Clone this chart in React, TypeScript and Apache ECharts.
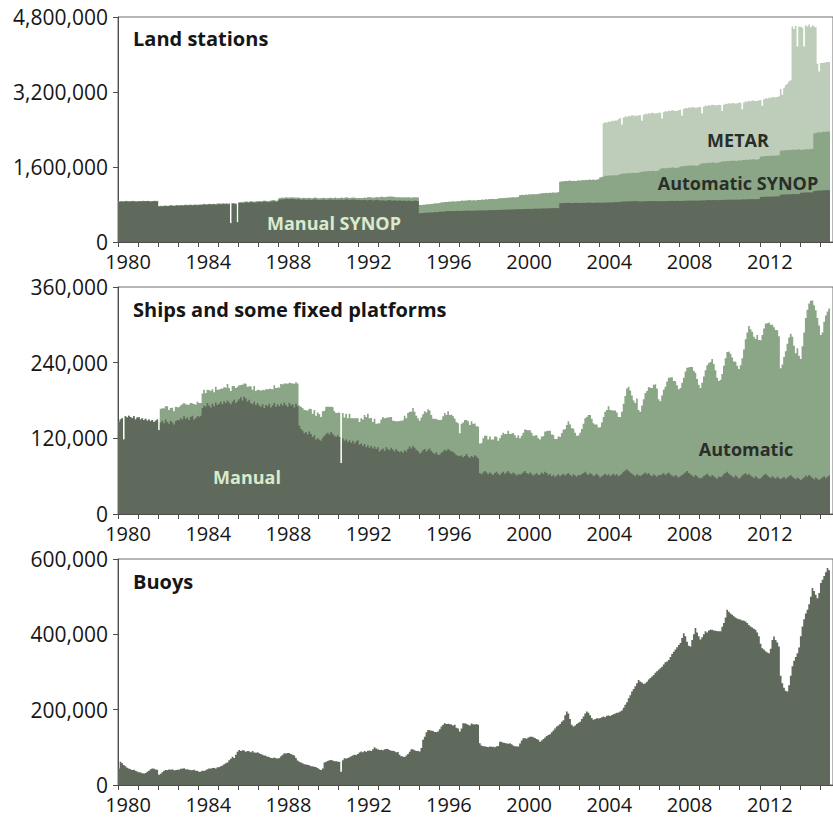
import React, { useEffect, useRef } from 'react';
import * as echarts from 'echarts';

// Monthly values (thousands of observations), January 1980 – June 2015
const START_YEAR = 1980;

const landManual: number[] = [
  860,866,858,863,869,864,860,867,871,862,858,865,
  867,862,871,868,864,873,866,860,869,871,864,872,
  758,765,760,770,767,762,772,776,770,766,779,773,
  776,781,772,786,782,778,789,784,780,791,786,782,
  792,788,796,801,790,799,803,796,806,800,794,807,
  809,800,813,806,811,798,812,400,816,810,808,420,
  831,836,828,841,846,838,842,851,845,838,848,853,
  855,850,859,863,856,848,861,866,871,862,858,867,
  906,913,908,916,921,910,919,923,915,911,905,918,
  906,898,911,902,895,909,901,895,906,911,900,894,
  896,901,906,898,892,903,909,900,896,905,898,903,
  901,906,898,907,911,902,896,905,909,900,894,903,
  898,890,896,903,888,897,901,892,886,895,899,890,
  885,893,888,880,887,895,891,882,889,884,878,887,
  883,876,885,880,874,887,881,872,879,885,876,870,
  615,620,618,624,630,626,633,629,636,640,637,644,
  648,652,646,655,659,654,661,657,663,660,666,662,
  664,668,662,670,666,673,669,665,672,668,675,671,
  672,676,670,678,674,681,677,683,679,685,681,688,
  684,690,686,693,689,696,692,698,694,700,697,703,
  698,704,700,707,703,709,705,712,708,714,710,716,
  712,718,714,720,716,722,719,724,721,726,722,728,
  825,832,828,835,830,837,833,828,835,831,838,834,
  830,836,832,839,835,841,837,833,840,836,842,838,
  835,842,838,845,841,848,844,850,846,853,849,856,
  860,866,862,869,865,871,867,873,869,875,871,866,
  863,870,866,873,868,875,871,877,873,869,876,872,
  868,874,870,877,872,879,875,881,877,873,880,876,
  875,881,877,884,880,886,882,888,884,880,887,883,
  885,891,887,894,890,896,892,898,894,890,897,893,
  895,901,897,904,900,906,902,908,904,900,907,903,
  905,911,907,914,910,916,912,918,914,910,917,913,
  960,966,962,969,965,971,967,973,969,975,971,977,
  1010,1016,1012,1019,1015,1021,1017,1023,1019,1025,1021,1027,
  1050,1056,1052,1059,1055,1061,1057,1063,1090,1095,1101,1098,
  1100,1106,1102,1109,1105,1111,
];

const landAutomatic: number[] = [
  6,8,5,7,9,6,8,5,7,6,8,7,
  7,5,8,6,9,7,5,8,6,7,9,6,
  8,6,9,7,5,8,10,7,9,6,8,10,
  9,7,10,8,11,9,7,10,8,11,9,12,
  10,12,9,13,11,10,14,12,10,13,11,15,
  13,11,15,12,14,16,13,0,15,12,14,0,
  16,18,14,19,17,15,20,18,16,21,19,17,
  20,18,22,19,21,24,20,18,23,21,19,24,
  30,34,29,35,31,36,33,29,35,31,37,33,
  32,37,31,36,39,33,38,34,31,36,40,35,
  36,32,39,35,41,37,34,40,36,42,38,35,
  38,43,37,41,36,44,39,42,37,45,41,38,
  42,48,45,52,49,56,53,50,58,55,61,58,
  62,70,66,75,80,72,78,85,76,70,74,68,
  66,72,64,70,76,68,62,70,75,66,71,78,
  172,168,175,170,178,174,180,176,183,179,186,182,
  192,198,194,201,196,203,199,206,202,197,204,208,
  210,216,211,218,214,221,216,223,219,214,221,226,
  226,232,228,235,230,237,233,240,235,231,238,243,
  244,250,246,253,248,255,251,258,253,249,256,262,
  298,305,300,307,302,309,305,312,307,303,310,316,
  320,326,322,329,324,331,327,334,329,325,332,338,
  458,466,462,470,465,473,468,476,471,467,474,480,
  478,486,481,489,484,492,487,495,490,486,493,499,
  540,548,565,572,567,575,570,578,573,569,576,582,
  590,598,593,601,596,604,599,607,602,598,605,611,
  630,638,633,641,636,644,639,647,642,638,645,651,
  695,703,698,706,701,709,704,712,707,703,710,716,
  735,743,738,746,741,749,744,752,747,743,750,756,
  785,793,788,796,791,799,794,802,797,793,800,806,
  815,823,818,826,821,829,824,832,827,823,830,836,
  835,843,838,846,841,849,844,852,847,843,850,856,
  860,868,863,871,866,874,869,877,872,868,875,881,
  935,943,938,946,941,949,944,952,947,943,950,956,
  915,923,918,926,921,929,924,932,1230,1235,1242,1238,
  1240,1248,1243,1251,1246,1254,
];

const landMetar: number[] = [
  0,0,0,0,0,0,0,0,0,0,0,0,
  0,0,0,0,0,0,0,0,0,0,0,0,
  0,0,0,0,0,0,0,0,0,0,0,0,
  0,0,0,0,0,0,0,0,0,0,0,0,
  0,0,0,0,0,0,0,0,0,0,0,0,
  0,0,0,0,0,0,0,0,0,0,0,0,
  0,0,0,0,0,0,0,0,0,0,0,0,
  0,0,0,0,0,0,0,0,0,0,0,0,
  0,0,0,0,0,0,0,0,0,0,0,0,
  0,0,0,0,0,0,0,0,0,0,0,0,
  0,0,0,0,0,0,0,0,0,0,0,0,
  0,0,0,0,0,0,0,0,0,0,0,0,
  0,0,0,0,0,0,0,0,0,0,0,0,
  0,0,0,0,0,0,0,0,0,0,0,0,
  0,0,0,0,0,0,0,0,0,0,0,0,
  0,0,0,0,0,0,0,0,0,0,0,0,
  0,0,0,0,0,0,0,0,0,0,0,0,
  0,0,0,0,0,0,0,0,0,0,0,0,
  0,0,0,0,0,0,0,0,0,0,0,0,
  0,0,0,0,0,0,0,0,0,0,0,0,
  0,0,0,0,0,0,0,0,0,0,0,0,
  0,0,0,0,0,0,0,0,0,0,0,0,
  0,0,0,0,0,0,0,0,0,0,0,0,
  0,0,0,0,0,0,0,0,0,0,0,0,
  0,0,1130,1140,1135,1150,1145,1160,1155,1170,1165,1180,
  1195,1040,1200,1210,1205,1215,1210,1222,1216,1225,1219,1230,
  1205,1080,1215,1222,1218,1228,1224,1232,1228,1236,1231,1240,
  1190,1060,1200,1208,1204,1212,1208,1217,1212,1220,1216,1225,
  1215,1070,1222,1230,1226,1234,1230,1239,1235,1243,1238,1247,
  1205,1060,1213,1220,1216,1224,1221,1230,1225,1233,1228,1237,
  1205,1070,1212,1220,1216,1225,1220,1228,1224,1233,1229,1238,
  1225,1080,1233,1240,1236,1245,1241,1249,1245,1253,1249,1258,
  1210,1075,1218,1226,1222,1231,1235,1244,1240,1249,1245,1254,
  1320,1180,1340,1380,1420,1460,1490,2620,2580,2640,2200,2610,
  2630,2590,2200,2640,2620,2650,2600,2630,2280,2250,1460,1300,
  1480,1470,1485,1478,1490,1482,
];

const shipManual: number[] = [
  146,150,152,118,155,153,156,154,152,155,150,153,
  154,150,152,149,151,148,150,147,149,146,148,150,
  133,145,148,144,150,146,143,148,145,142,147,149,
  148,152,150,155,151,153,149,154,156,150,152,155,
  154,156,168,172,170,176,172,169,175,171,177,173,
  175,178,174,179,176,180,177,174,178,181,176,179,
  182,185,180,186,183,178,181,176,174,178,173,176,
  172,170,174,168,173,171,175,169,172,176,170,174,
  171,175,172,177,173,170,176,172,174,169,175,171,
  140,135,132,128,130,126,131,127,122,125,118,120,
  118,116,121,124,127,129,126,130,127,124,122,125,
  122,81,120,116,118,114,117,113,116,112,115,117,
  110,112,108,111,106,109,105,108,104,107,103,106,
  99,102,104,100,106,103,101,105,102,99,103,100,
  98,100,97,101,99,103,107,104,108,105,102,100,
  96,98,101,103,99,102,104,100,97,95,98,94,
  94,97,99,102,100,103,101,99,98,96,93,92,
  91,93,90,92,95,91,89,92,90,93,91,88,
  65,63,66,68,66,63,66,64,62,65,67,64,
  62,65,67,64,66,68,65,63,66,64,61,63,
  62,64,66,68,65,63,66,64,61,63,65,62,
  63,66,64,67,65,62,64,60,62,59,61,63,
  60,62,64,61,63,65,62,60,63,61,59,62,
  61,63,65,67,64,62,65,63,60,62,64,61,
  58,60,62,64,61,63,60,62,64,61,63,60,
  62,64,67,69,71,68,66,64,62,60,63,61,
  60,62,64,66,63,65,62,60,63,61,59,62,
  61,63,65,62,64,66,63,61,59,62,60,58,
  60,62,64,66,68,65,63,61,59,62,60,57,
  56,58,60,62,64,61,59,62,60,58,56,59,
  58,60,63,65,67,64,62,60,58,61,59,56,
  58,61,63,65,62,64,61,59,57,60,58,56,
  57,59,62,64,61,59,57,60,58,56,59,57,
  55,57,59,56,58,60,62,59,57,55,58,56,
  54,56,58,61,59,62,60,57,55,58,56,54,
  56,58,60,57,59,61,
];

const shipAutomatic: number[] = [
  0,0,0,0,0,0,0,0,0,0,0,0,
  0,0,0,0,0,0,0,0,0,0,0,0,
  0,22,20,23,21,25,22,20,24,21,23,20,
  22,20,24,21,23,20,25,22,19,24,21,23,
  22,20,23,25,22,21,24,26,23,22,25,24,
  23,21,25,22,24,26,23,21,25,22,24,23,
  22,20,25,21,23,24,22,26,23,25,22,21,
  24,26,23,28,25,27,24,29,26,28,30,27,
  29,31,33,30,34,36,32,35,33,37,34,36,
  32,35,36,37,34,38,36,39,37,40,38,41,
  40,38,42,40,43,41,44,40,42,39,38,36,
  38,0,40,37,41,38,42,39,36,40,37,35,
  36,40,42,46,48,50,47,45,42,44,40,38,
  45,48,50,52,47,50,53,49,46,48,44,47,
  50,48,52,55,53,57,55,58,60,57,54,52,
  52,55,57,60,62,64,60,57,54,56,52,55,
  55,53,56,58,57,60,56,59,57,55,53,52,
  37,50,55,57,54,56,52,55,53,51,48,50,
  47,50,54,56,58,55,57,54,56,58,55,52,
  58,60,62,63,61,64,62,65,63,61,60,62,
  58,60,63,66,68,70,67,65,63,62,60,58,
  55,57,60,64,67,70,68,66,63,60,58,60,
  62,66,70,74,78,82,80,76,72,68,65,63,
  68,72,78,85,90,95,92,88,84,80,78,76,
  80,85,92,98,104,108,105,102,100,103,98,94,
  92,98,108,118,128,134,130,124,118,116,120,104,
  102,110,118,126,132,136,138,140,142,145,140,120,
  118,125,132,140,146,150,154,156,152,148,144,140,
  140,146,152,160,164,168,170,172,168,162,154,148,
  144,150,158,166,172,178,182,184,178,170,160,152,
  155,162,172,182,190,194,192,188,184,180,176,174,
  178,186,198,212,226,234,232,230,224,218,226,220,
  218,225,232,238,242,245,243,240,238,236,232,225,
  176,180,190,202,212,220,224,222,210,200,205,195,
  192,210,230,250,265,272,278,282,276,265,255,245,
  228,230,245,258,262,265,
];

const buoys: number[] = [
  44,62,58,53,50,46,44,42,40,41,38,36,
  34,33,31,30,32,35,38,42,44,43,41,40,
  27,30,34,38,40,39,41,40,42,39,40,41,
  40,43,44,45,42,41,40,39,40,41,38,37,
  35,36,38,37,39,42,44,43,45,46,44,47,
  48,50,52,55,58,60,66,70,75,72,80,88,
  93,90,92,91,88,90,89,87,90,86,85,87,
  84,82,80,78,77,75,74,72,71,73,71,70,
  72,76,80,84,83,85,84,82,80,78,72,65,
  62,60,58,55,54,53,52,50,49,48,47,45,
  42,40,44,60,62,64,66,67,65,63,64,62,
  62,35,66,71,70,72,74,76,78,80,79,82,
  86,89,87,90,88,91,92,90,95,100,97,95,
  93,94,92,95,96,95,93,91,90,89,87,88,
  80,76,75,74,78,82,88,95,94,92,90,91,
  89,98,120,128,140,146,145,144,143,141,140,142,
  148,155,160,164,162,163,161,160,158,160,152,150,
  142,150,164,163,162,160,158,163,161,160,162,160,
  111,105,103,102,101,100,102,101,102,100,103,104,
  115,114,112,111,110,109,111,108,105,103,102,102,
  110,118,124,125,123,126,128,129,127,125,122,120,
  115,118,122,126,130,133,135,140,145,150,155,158,
  162,168,172,185,195,190,175,160,155,158,162,165,
  168,175,182,190,195,192,185,178,173,175,177,176,
  178,180,182,180,184,185,183,186,188,190,192,193,
  195,198,205,213,220,230,238,248,255,262,270,279,
  275,272,268,270,274,280,284,288,292,298,302,306,
  310,314,320,326,328,332,340,348,354,360,366,372,
  377,390,403,395,380,370,368,385,400,417,405,395,
  386,392,400,408,405,410,412,412,410,409,408,408,
  408,420,430,445,465,460,455,452,448,445,442,440,
  439,437,436,434,430,425,421,418,415,412,405,395,
  375,363,360,355,352,350,362,385,394,385,378,368,
  290,270,258,250,248,265,290,315,330,340,350,365,
  395,421,440,455,465,480,500,523,515,505,496,510,
  536,545,555,565,576,570,
];

const panelTitles = ['Land stations', 'Ships and some fixed platforms', 'Buoys'];
const yMax = [4800000, 360000, 600000];
const yInterval = [1600000, 120000, 200000];

const DARK = '#5f6a5c';
const MID = '#8ba686';
const LIGHT = '#bdcdb9';
const LABEL_LIGHT = '#d9eacd';
const LABEL_DARK = '#2a2e29';
const AXIS = '#4d4d4d';
const TEXT = '#161616';
const FONT = '"Open Sans", "Noto Sans", sans-serif';

const X_MIN = 1980;
const X_MAX = 2015.65;

// cumulative top of a stack of monthly components
function cumulate(...parts: number[][]) {
  return parts[0].map((_, i) => parts.reduce((s, p) => s + p[i], 0));
}

function toSeries(vals: number[]) {
  const pts = vals.map((v, i) => [START_YEAR + i / 12, v * 1000]);
  pts.push([START_YEAR + vals.length / 12, vals[vals.length - 1] * 1000]);
  return pts;
}

export default function App() {
  const ref = useRef<HTMLDivElement>(null);
  useEffect(() => {
    if (!ref.current) return;
    const chart = echarts.init(ref.current, undefined, { renderer: 'svg' });

    const grids = [
      { left: 118, right: -4, top: 17, height: 225 },
      { left: 118, right: -4, top: 287, height: 227 },
      { left: 118, right: -4, top: 559, height: 226 },
    ].map((g) => ({ ...g, show: true, borderColor: '#6e6e6e', borderWidth: 1, backgroundColor: 'transparent' }));

    // axes carrying the yearly ticks (data axes)
    const tickAxes = [0, 1, 2].map((i) => ({
      type: 'value',
      gridIndex: i,
      position: 'bottom',
      min: X_MIN,
      max: X_MAX,
      interval: 1,
      axisLine: { show: true, lineStyle: { color: AXIS, width: 1 } },
      axisTick: { show: true, length: 5, lineStyle: { color: AXIS } },
      splitLine: { show: false },
      axisLabel: { show: false },
    }));

    // axes carrying the year labels, centred in the middle of each year
    const labelAxes = [0, 1, 2].map((i) => ({
      type: 'value',
      gridIndex: i,
      position: 'bottom',
      min: X_MIN - 0.5,
      max: X_MAX - 0.5,
      interval: 0.5,
      axisLine: { show: false },
      axisTick: { show: false },
      splitLine: { show: false },
      axisLabel: {
        show: true,
        fontSize: 20,
        lineHeight: 20,
        fontFamily: FONT,
        color: TEXT,
        margin: 9,
        showMaxLabel: false,
        showMinLabel: false,
        formatter: (v: number) => (Math.abs(v - Math.round(v)) < 1e-6 && Math.round(v) % 4 === 0 ? String(Math.round(v)) : ''),
      },
    }));

    const yAxes = [0, 1, 2].map((i) => ({
      type: 'value',
      gridIndex: i,
      min: 0,
      max: yMax[i],
      interval: yInterval[i],
      axisLine: { show: true, lineStyle: { color: AXIS, width: 1 } },
      axisTick: { show: true, length: 5, lineStyle: { color: AXIS } },
      splitLine: { show: false },
      axisLabel: {
        fontSize: 21,
        lineHeight: 20,
        fontFamily: FONT,
        color: TEXT,
        margin: 10,
        formatter: (v: number) => v.toLocaleString('en-US'),
      },
    }));

    const area = (name: string, vals: number[], color: string, idx: number, z: number) => ({
      type: 'line',
      name,
      xAxisIndex: idx,
      yAxisIndex: idx,
      step: 'end',
      symbol: 'none',
      showSymbol: false,
      silent: true,
      z,
      lineStyle: { width: 0, opacity: 0 },
      areaStyle: { color, opacity: 1 },
      data: toSeries(vals),
    });

    const txt = (text: string, x: number, y: number, fill: string, size: number, align: string) => ({
      type: 'text',
      x,
      y,
      z: 10,
      silent: true,
      style: {
        text,
        fill,
        fontSize: size,
        fontWeight: 'bold',
        fontFamily: FONT,
        align,
        textAlign: align,
        verticalAlign: 'middle',
        textVerticalAlign: 'middle',
      },
    });

    chart.setOption({
      animation: false,
      grid: grids,
      xAxis: [...tickAxes, ...labelAxes],
      yAxis: yAxes,
      series: [
        area('METAR', cumulate(landManual, landAutomatic, landMetar), LIGHT, 0, 2),
        area('Automatic SYNOP', cumulate(landManual, landAutomatic), MID, 0, 3),
        area('Manual SYNOP', landManual, DARK, 0, 4),
        area('Automatic', cumulate(shipManual, shipAutomatic), MID, 1, 3),
        area('Manual', shipManual, DARK, 1, 4),
        area('Buoys', buoys, DARK, 2, 4),
      ],
      graphic: [
        txt(panelTitles[0], 133, 38, TEXT, 20, 'left'),
        txt(panelTitles[1], 133, 309, TEXT, 20, 'left'),
        txt(panelTitles[2], 133, 581, TEXT, 20, 'left'),
        txt('Manual SYNOP', 334, 223, LABEL_LIGHT, 18, 'center'),
        txt('METAR', 738, 140, LABEL_DARK, 18, 'center'),
        txt('Automatic SYNOP', 738, 183, LABEL_DARK, 18, 'center'),
        txt('Manual', 247, 477, LABEL_LIGHT, 18, 'center'),
        txt('Automatic', 746, 449, LABEL_DARK, 18, 'center'),
      ],
    });

    return () => chart.dispose();
  }, []);

  return <div ref={ref} style={{ position: 'absolute', left: 0, top: 0, width: 833, height: 818 }} />;
}
